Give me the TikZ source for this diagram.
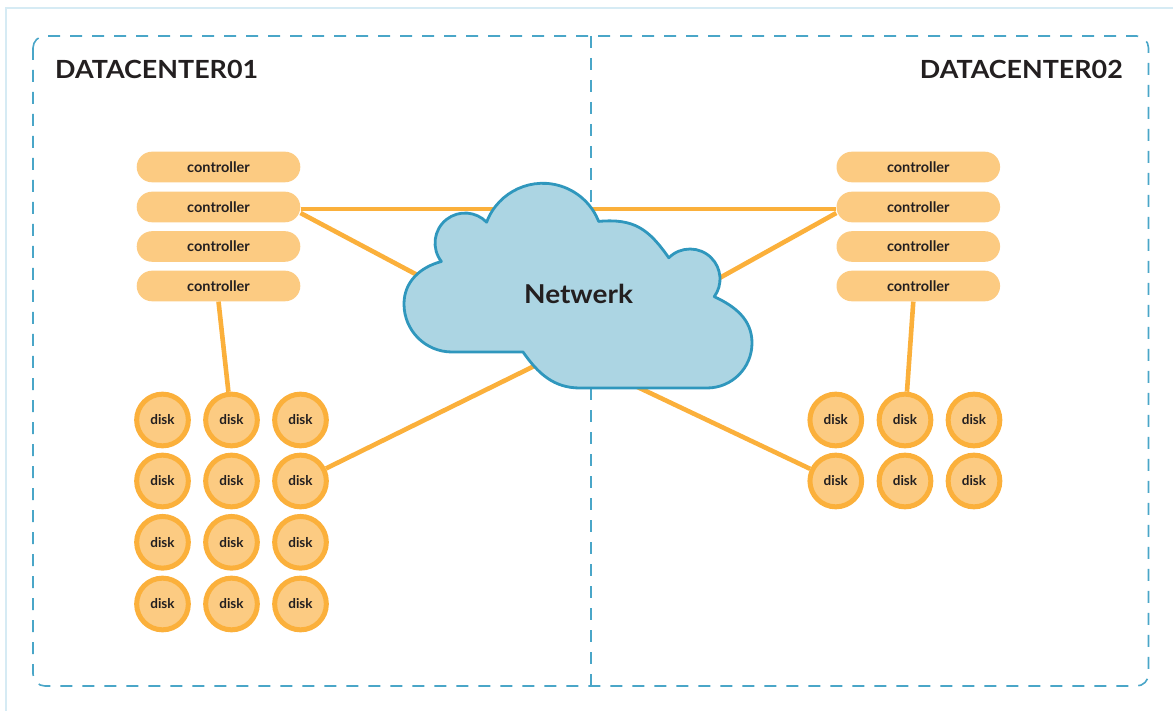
\documentclass[tikz,border=0pt]{standalone}
\usepackage{fontspec}
\setmainfont{Lato}
\newfontfamily\widelato[FakeStretch=1.075]{Lato}
\usetikzlibrary{backgrounds}
\definecolor{linkorange}{HTML}{FBB03B}
\definecolor{boxorange}{HTML}{FCCB82}
\definecolor{cloudfill}{HTML}{ACD5E3}
\definecolor{cloudline}{HTML}{2F97BD}
\definecolor{zoneline}{HTML}{4AA6C8}
\definecolor{framecol}{HTML}{D6EBF4}
\definecolor{ink}{HTML}{231F20}
\begin{document}
\begin{tikzpicture}[x=1pt,y=1pt,
  frameline/.style={draw=framecol,line width=2pt},
  zone/.style={draw=zoneline,line width=1.6pt,dash pattern=on 12pt off 10pt},
  zonetitle/.style={text=ink,font=\widelato\fontsize{25}{28}\selectfont\bfseries,inner sep=0pt},
  ctrl/.style={fill=boxorange,rounded corners=15.3pt,minimum width=163.6pt,minimum height=30.6pt,
    inner sep=0pt,text=ink,font=\fontsize{14.5}{16}\selectfont\bfseries},
  disk/.style={circle,fill=boxorange,draw=linkorange,line width=5pt,minimum size=51.7pt,
    inner sep=0pt,text=ink,font=\fontsize{13.5}{15}\selectfont\bfseries},
  link/.style={draw=linkorange,line width=4.6pt},
  cloudshape/.style={fill=cloudfill,draw=cloudline,line width=2.8pt,line join=round},
  nettext/.style={text=ink,font=\widelato\fontsize{26}{30}\selectfont\bfseries,inner sep=0pt}]
\useasboundingbox (0,0) rectangle (1173,-711);

% zone titles
\node[zonetitle,anchor=base west] (dc1) at (55,-79) {DATACENTER01};
\node[zonetitle,anchor=base east] (dc2) at (1123,-79) {DATACENTER02};

% controllers of both datacenters
\foreach \i/\y in {1/-167,2/-207,3/-246.5,4/-286}{
  \node[ctrl] (c\i L) at (218.5,\y) {controller};
  \node[ctrl] (c\i R) at (918.3,\y) {controller};
}

% disk shelves
\foreach \r/\y in {1/-420,2/-481,3/-542.3,4/-604}{
  \foreach \c/\x in {1/162.5,2/231.5,3/300.5}{
    \node[disk] (dL\r\c) at (\x,\y) {disk};
  }
}
\foreach \r/\y in {1/-420,2/-481}{
  \foreach \c/\x in {1/835.8,2/905,3/974}{
    \node[disk] (dR\r\c) at (\x,\y) {disk};
  }
}

% network label
\node[nettext] (net) at (578.5,-294) {Netwerk};

% points inside the cloud where links end
\coordinate (netA) at (470,-303);
\coordinate (netB) at (680,-300);
\coordinate (netC) at (560,-353.4);
\coordinate (netD) at (610,-374);

\begin{scope}[on background layer]
  % outer frame
  \begin{scope}
    \clip (0,0) rectangle (1173,-711);
    \draw[frameline] (6,-8) rectangle (1200,-740);
  \end{scope}
  % datacenter zones
  \draw[zone,rounded corners=12pt] (33,-36) rectangle (1148.5,-686);
  \draw[zone] (591,-36) -- (591,-686);

  % links
  \draw[link] ([yshift=-2pt]c2L.east) -- ([yshift=-2pt]c2R.west);
  \draw[link] ([yshift=-6pt]c2L.east) -- (netA);
  \draw[link] ([yshift=-6pt]c2R.west) -- (netB);
  \draw[link] (dL23) -- (netC);
  \draw[link] (dR21) -- (netD);
  \draw[link] (c4L.south) -- (dL12);
  \draw[link] ([xshift=-5pt]c4R.south) -- (dR12);

  % network cloud
  \path[cloudshape] (523,-352) -- (452,-352)
    to[out=180,in=-90] (404,-304)
    to[out=90,in=195] (441.4,-261.5)
    arc[start angle=218,end angle=44,radius=30]
    arc[start angle=159.4,end angle=21.4,radius=60]
    to[out=5,in=125,looseness=1.15] (668.8,-257.8)
    arc[start angle=135,end angle=-36,radius=30]
    to[out=-25,in=90] (752,-343)
    to[out=-90,in=0] (707,-388)
    -- (580,-388)
    to[out=180,in=-55] (523,-352) -- cycle;
\end{scope}
\end{tikzpicture}
\end{document}
